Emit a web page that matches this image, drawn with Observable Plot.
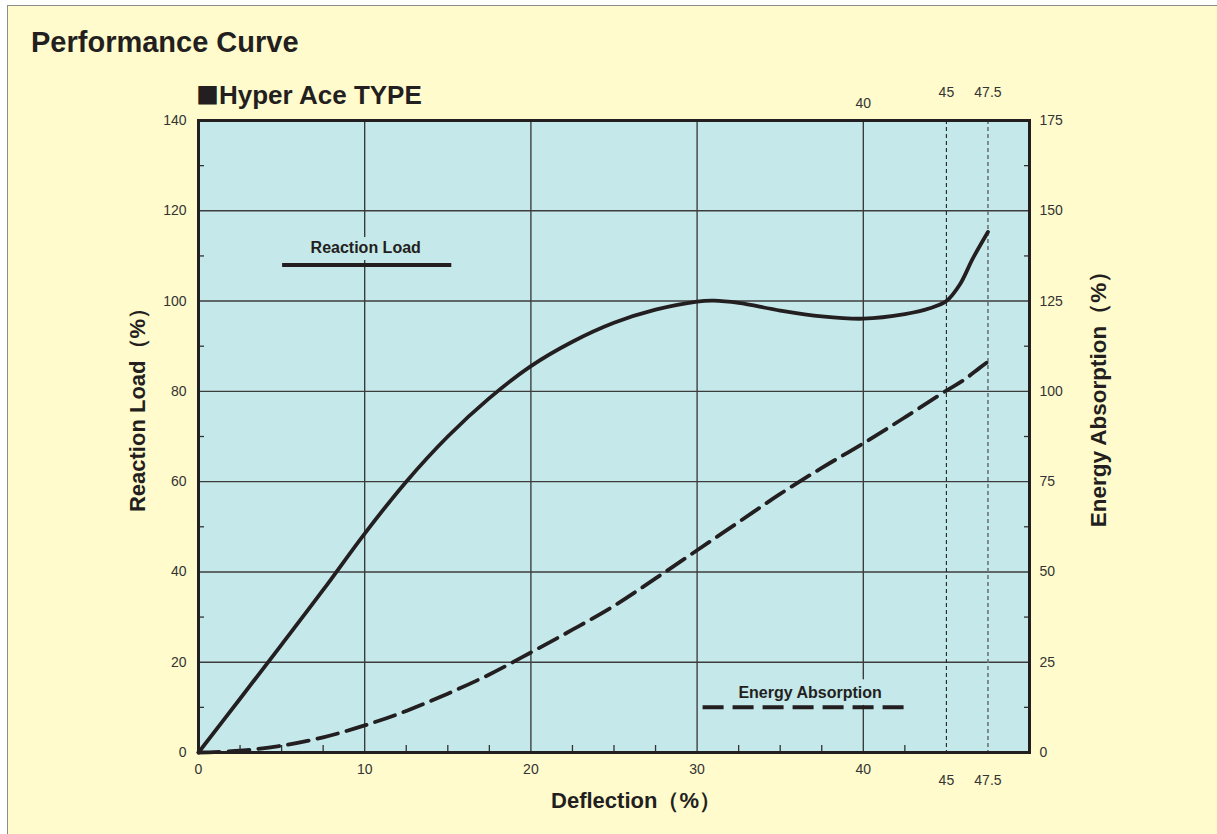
<!DOCTYPE html>
<html>
<head>
<meta charset="utf-8">
<script src="https://cdn.jsdelivr.net/npm/d3@7"></script>
<script src="https://cdn.jsdelivr.net/npm/@observablehq/plot@0.6"></script>
<style>
html, body { margin: 0; padding: 0; background: #ffffff; width: 1217px; height: 834px; overflow: hidden; }
#panel { position: absolute; left: 7px; top: 5px; width: 1240px; height: 860px; background: #fffbcc; border: 1.5px solid #8c8c8c; box-sizing: border-box; }
#chart { position: absolute; left: 0; top: 0; }
.t { position: absolute; font-family: "Liberation Sans", Arial, sans-serif; font-weight: bold; color: #231f20; line-height: 1; white-space: nowrap; }
.sq { font-family: "Noto Sans CJK JP", "DejaVu Sans", sans-serif; font-size: 23px; letter-spacing: 0px; margin-left: -1px; }
</style>
</head>
<body>
<div id="panel"></div>
<div id="chart"></div>
<div class="t" style="left:31px; top:28px; font-size:29px;">Performance Curve</div>
<div class="t" style="left:197px; top:82px; font-size:26px;"><span class="sq">■</span>Hyper Ace TYPE</div>
<script>
// ---- data ----
const loadDeflection = [0, 2.5, 5, 7.5, 10, 12.5, 15, 17.5, 20, 22.5, 25, 27.5, 30, 31, 32.5, 35, 37.5, 40, 42.5, 44, 45, 45.8, 46.6, 47.5];
const reactionLoad   = [0, 11.9, 23.9, 36, 48.5, 60, 70, 78.5, 85.6, 91, 95.2, 98.1, 99.9, 100.1, 99.6, 97.9, 96.6, 96.1, 97.1, 98.4, 100, 103.6, 109.5, 115.3];

const energyDeflection = [0, 2.5, 5, 7.5, 10, 12.5, 15, 17.5, 20, 22.5, 25, 27.5, 30, 32.5, 35, 37.5, 40, 42.5, 45, 46, 47, 47.5];
const energyAbsorption = [0, 0.5, 1.9, 4.2, 7.5, 11.5, 16.3, 21.6, 27.7, 34, 40.6, 48.2, 56, 63.8, 71.6, 78.8, 85.6, 92.8, 100.2, 103, 106.5, 108.2];

const xMajorTicks = [0, 10, 20, 30, 40];
const xSpecialTicks = [45, 47.5];
const xTopTicks = [40];
const xMinorTicks = [2.5, 5, 7.5, 12.5, 15, 17.5, 22.5, 25, 27.5, 32.5, 35, 37.5, 42.5];
const xGrid = [10, 20, 30, 40];
const yMajorTicks = [0, 20, 40, 60, 80, 100, 120, 140];
const yGrid = [20, 40, 60, 80, 100, 120];
const yMinorTicks = [10, 30, 50, 70, 90, 110, 130];
const energyPerLoad = 175 / 140; // right axis 0–175 against left axis 0–140

const titleLeft = "Reaction Load（%）";
const titleRight = "Energy Absorption（%）";
const titleBottom = "Deflection（%）";
const legendLoad = "Reaction Load";
const legendEnergy = "Energy Absorption";

const reaction = loadDeflection.map((d, i) => ({d, v: reactionLoad[i]}));
const energy = energyDeflection.map((d, i) => ({d, e: energyAbsorption[i]}));

const ink = "#231f20";
const cyan = "#c5e8ea";
const font = "'Liberation Sans', Arial, Helvetica, sans-serif";
const fmt = d => String(d);

const chart = Plot.plot({
  width: 1217,
  height: 834,
  marginLeft: 198,
  marginRight: 188,
  marginTop: 120,
  marginBottom: 82,
  x: {domain: [0, 50], label: null},
  y: {domain: [0, 140], label: null},
  style: {background: "transparent", fontFamily: font, color: "#333"},
  marks: [
    Plot.frame({fill: cyan}),
    Plot.ruleX(xGrid, {stroke: "#333", strokeWidth: 1.3}),
    Plot.ruleY(yGrid, {stroke: "#3c3c3c", strokeWidth: 1.4}),
    Plot.ruleX([45], {stroke: "#222", strokeWidth: 1.1, strokeDasharray: "4,3"}),
    Plot.ruleX([47.5], {stroke: "#6f7478", strokeWidth: 1.6, strokeDasharray: "4,3"}),

    // minor inward ticks
    Plot.axisX(xMinorTicks, {anchor: "bottom", tickSize: -7, tickFormat: () => "", label: null, stroke: "#333", strokeWidth: 1.3}),
    Plot.axisY(yMinorTicks, {anchor: "left", tickSize: -6, tickFormat: () => "", label: null, stroke: "#333", strokeWidth: 1.3}),
    Plot.axisY(yMinorTicks, {anchor: "right", tickSize: -6, tickFormat: () => "", label: null, stroke: "#333", strokeWidth: 1.3}),

    // tick labels
    Plot.axisY(yMajorTicks, {anchor: "left", tickSize: 0, tickPadding: 12, fontSize: 14, label: null, fill: "#333", tickFormat: fmt}),
    Plot.axisY(yMajorTicks, {anchor: "right", tickSize: 0, tickPadding: 10, fontSize: 14, label: null, fill: "#333", tickFormat: d => String(d * energyPerLoad)}),
    Plot.axisX(xMajorTicks, {anchor: "bottom", tickSize: 0, tickPadding: 12, fontSize: 14, label: null, fill: "#333", tickFormat: fmt}),
    Plot.axisX(xSpecialTicks, {anchor: "bottom", tickSize: 0, tickPadding: 23, fontSize: 14, label: null, fill: "#333", tickFormat: fmt}),
    Plot.axisX(xTopTicks, {anchor: "top", tickSize: 0, tickPadding: 13, fontSize: 14, label: null, fill: "#333", tickFormat: fmt}),
    Plot.axisX(xSpecialTicks, {anchor: "top", tickSize: 0, tickPadding: 24, fontSize: 14, label: null, fill: "#333", tickFormat: fmt}),

    // curves
    Plot.line(energy, {x: "d", y: d => d.e / energyPerLoad, curve: "catmull-rom", stroke: ink, strokeWidth: 3.8, strokeDasharray: "21,9"}),
    Plot.line(reaction, {x: "d", y: "v", curve: "catmull-rom", stroke: ink, strokeWidth: 3.8}),

    // legends (annotation placement)
    Plot.text([legendLoad], {x: 10.06, y: 111.7, text: d => d, fontSize: 16, fontWeight: "bold", fill: ink, stroke: cyan, strokeWidth: 14}),
    Plot.ruleY([108], {x1: 5.06, x2: 15.24, stroke: ink, strokeWidth: 4}),
    Plot.text([legendEnergy], {x: 36.8, y: 13.3, text: d => d, fontSize: 16, fontWeight: "bold", fill: ink, stroke: cyan, strokeWidth: 14}),
    Plot.ruleY([10], {x1: 30.36, x2: 42.77, stroke: ink, strokeWidth: 4, strokeDasharray: "21,9"}),

    // axis titles
    Plot.text([titleLeft], {frameAnchor: "left", textAnchor: "middle", lineAnchor: "middle", rotate: -90, dx: -61, dy: -32, text: d => d, fontSize: 22, fontWeight: "bold", fill: ink}),
    Plot.text([titleRight], {frameAnchor: "right", textAnchor: "middle", lineAnchor: "middle", rotate: -90, dx: 69, dy: -43, text: d => d, fontSize: 22.5, fontWeight: "bold", fill: ink}),
    Plot.text([titleBottom], {frameAnchor: "bottom", textAnchor: "middle", lineAnchor: "middle", dx: 22, dy: 48, text: d => d, fontSize: 22, fontWeight: "bold", fill: ink}),

    Plot.frame({stroke: ink, strokeWidth: 3})
  ]
});
document.getElementById("chart").appendChild(chart);
</script>
</body>
</html>
